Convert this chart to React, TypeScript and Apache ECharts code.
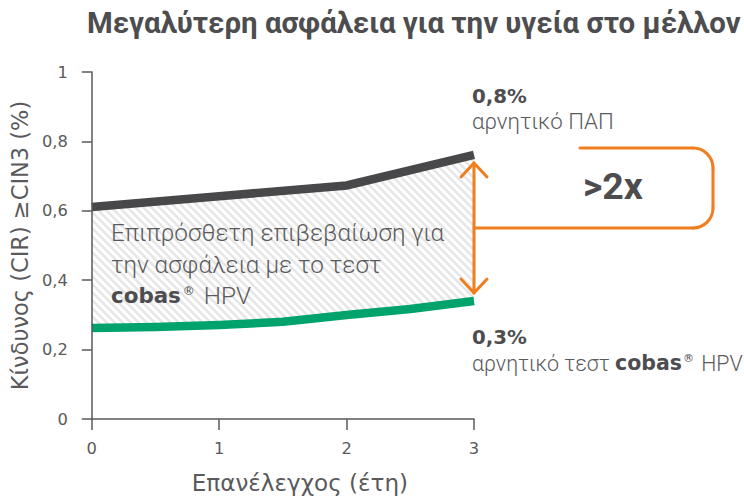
import React, { useEffect, useRef } from 'react';
import * as echarts from 'echarts';

const titleText = 'Μεγαλύτερη ασφάλεια για την υγεία στο μέλλον';
const xAxisName = 'Επανέλεγχος (έτη)';
const yAxisName = 'Κίνδυνος (CIR) ≥CIN3 (%)';
const papYears = [0, 1, 2, 3];
const papRisk = [0.611, 0.642, 0.673, 0.761];
const hpvYears = [0, 0.5, 1, 1.5, 2, 2.5, 3];
const hpvRisk = [0.262, 0.265, 0.271, 0.28, 0.3, 0.317, 0.34];
const papEndValue = '0,8%';
const papEndText = 'αρνητικό ΠΑΠ';
const hpvEndValue = '0,3%';
const hpvEndLead = 'αρνητικό τεστ ';
const brandName = 'cobas';
const areaLine1 = 'Επιπρόσθετη επιβεβαίωση για';
const areaLine2 = 'την ασφάλεια με το τεστ';
const ratioText = '>2x';

const FONT = 'Roboto, "Noto Sans", sans-serif';
const WIDE = '"DejaVu Sans", Roboto, sans-serif';
const GREY = '#4d4d4f';
const TEXT = '#5a5a5c';
const AXIS = '#5a5a5c';
const DARK = '#48484b';
const GREEN = '#00a36c';
const ORANGE = '#f07d1e';

const measureCtx = document.createElement('canvas').getContext('2d')!;
function fit(text: string, family: string, weight: string | number, target: number) {
  measureCtx.font = `${weight} 100px ${family}`;
  const w = measureCtx.measureText(text).width;
  return Math.round((1000 * target) / w) / 10;
}

function makeHatch() {
  const s = 8;
  const c = document.createElement('canvas');
  c.width = s;
  c.height = s;
  const ctx = c.getContext('2d')!;
  ctx.fillStyle = '#ffffff';
  ctx.fillRect(0, 0, s, s);
  ctx.strokeStyle = '#e6e6e6';
  ctx.lineWidth = 2.6;
  for (const k of [-s, 0, s]) {
    ctx.beginPath();
    ctx.moveTo(-2, k - 2);
    ctx.lineTo(s + 2, s + k + 2);
    ctx.stroke();
  }
  return c;
}

export default function App() {
  const ref = useRef<HTMLDivElement>(null);
  useEffect(() => {
    document.body.style.margin = '0';
    const chart = echarts.init(ref.current!, null, { renderer: 'svg' });
    const hatch = makeHatch();

    const titleSize = fit(titleText, FONT, 'bold', 654);
    const xNameSize = fit(xAxisName, WIDE, 'normal', 216);
    const yNameSize = fit(yAxisName, WIDE, 'normal', 290);
    const tickSize = fit('0,8', WIDE, 'normal', 26);
    const valueSize = fit(papEndValue, WIDE, 'bold', 55);
    const labelSize = fit(papEndText, FONT, 300, 142);
    const leadSize = fit(hpvEndLead, FONT, 300, 143);
    const brandSize = fit(brandName, WIDE, 'bold', 67);
    const areaSize = fit(areaLine1, FONT, 300, 333);
    const areaBrandSize = fit(brandName, WIDE, 'bold', 70);
    const ratioSize = fit(ratioText, FONT, 'bold', 60);

    chart.setOption({
      animation: false,
      backgroundColor: '#ffffff',
      textStyle: { fontFamily: FONT },
      title: {
        text: titleText,
        left: 87,
        top: 33 - 0.345 * titleSize - 16,
        padding: 0,
        textStyle: { fontSize: titleSize, fontWeight: 'bold', color: GREY, fontFamily: FONT, lineHeight: 32 },
      },
      grid: { left: 88, right: 270, top: 72, bottom: 83, containLabel: false },
      xAxis: {
        type: 'value',
        min: 0,
        max: 3,
        interval: 1,
        z: 10,
        name: xAxisName,
        nameLocation: 'middle',
        nameGap: 483 - 419 - xNameSize / 2,
        nameTextStyle: { fontSize: xNameSize, color: TEXT, fontFamily: WIDE, padding: [0, 0, 0, 34] },
        axisLine: { lineStyle: { color: AXIS, width: 1.5 } },
        axisTick: { show: true, length: 11, lineStyle: { color: AXIS, width: 1.5 } },
        axisLabel: { margin: 449 - 419 - tickSize / 2, fontSize: tickSize, color: TEXT, fontFamily: WIDE },
        splitLine: { show: false },
      },
      yAxis: {
        type: 'value',
        min: 0,
        max: 1,
        interval: 0.2,
        z: 10,
        name: yAxisName,
        nameLocation: 'middle',
        nameRotate: 90,
        nameGap: 88 - 21 - yNameSize / 2,
        nameTextStyle: { fontSize: yNameSize, color: TEXT, fontFamily: WIDE },
        axisLine: { show: true, lineStyle: { color: AXIS, width: 1.5 } },
        axisTick: { show: true, length: 10, lineStyle: { color: AXIS, width: 1.5 } },
        axisLabel: {
          margin: 24,
          fontSize: tickSize,
          color: TEXT,
          fontFamily: WIDE,
          formatter: (v: number) => String(Number(v.toFixed(1))).replace('.', ','),
        },
        splitLine: { show: false },
      },
      series: [
        {
          type: 'line',
          data: papYears.map((x, i) => [x, papRisk[i]]),
          showSymbol: false,
          silent: true,
          z: 2,
          lineStyle: { color: DARK, width: 8.5, cap: 'butt', join: 'miter' },
          areaStyle: {
            color: { image: hatch, repeat: 'repeat', imageWidth: 8, imageHeight: 8 },
            opacity: 1,
          },
        },
        {
          type: 'line',
          data: hpvYears.map((x, i) => [x, hpvRisk[i]]),
          showSymbol: false,
          silent: true,
          z: 3,
          lineStyle: { color: GREEN, width: 8.5, cap: 'butt', join: 'round' },
          areaStyle: { color: '#ffffff', opacity: 1 },
        },
      ],
    });

    const pEnd = chart.convertToPixel({ gridIndex: 0 }, [papYears[papYears.length - 1], papRisk[papRisk.length - 1]]) as number[];
    const hEnd = chart.convertToPixel({ gridIndex: 0 }, [hpvYears[hpvYears.length - 1], hpvRisk[hpvRisk.length - 1]]) as number[];
    const ax = pEnd[0];
    const topTip = pEnd[1] + 8;
    const botTip = hEnd[1] - 8;
    const midY = (topTip + botTip) / 2;
    const bx0 = ax + 106;
    const bx1 = ax + 239;
    const by0 = midY - 80;
    const r = 20;
    const orange = { stroke: ORANGE, lineWidth: 3, lineCap: 'round', lineJoin: 'round', fill: null };

    chart.setOption({
      graphic: [
        { type: 'line', z: 20, shape: { x1: ax, y1: topTip, x2: ax, y2: botTip }, style: orange },
        { type: 'polyline', z: 20, shape: { points: [[ax - 13, topTip + 14], [ax, topTip], [ax + 13, topTip + 14]] }, style: orange },
        { type: 'polyline', z: 20, shape: { points: [[ax - 13, botTip - 14], [ax, botTip], [ax + 13, botTip - 14]] }, style: orange },
        { type: 'line', z: 20, shape: { x1: ax, y1: midY, x2: bx1 - r, y2: midY }, style: orange },
        { type: 'line', z: 20, shape: { x1: bx0, y1: by0, x2: bx1 - r, y2: by0 }, style: orange },
        { type: 'line', z: 20, shape: { x1: bx1, y1: by0 + r, x2: bx1, y2: midY - r }, style: orange },
        { type: 'arc', z: 20, shape: { cx: bx1 - r, cy: by0 + r, r, startAngle: -Math.PI / 2, endAngle: 0, clockwise: true }, style: orange },
        { type: 'arc', z: 20, shape: { cx: bx1 - r, cy: midY - r, r, startAngle: 0, endAngle: Math.PI / 2, clockwise: true }, style: orange },
        {
          type: 'text', z: 20, x: 583, y: 199 - 0.345 * ratioSize,
          style: { text: ratioText, fontSize: ratioSize, fontWeight: 'bold', fontFamily: FONT, fill: GREY, align: 'left', verticalAlign: 'middle' },
        },
        {
          type: 'text', z: 20, x: 472, y: 96,
          style: { text: papEndValue, fontSize: valueSize, fontWeight: 'bold', fontFamily: WIDE, fill: GREY, align: 'left', verticalAlign: 'middle' },
        },
        {
          type: 'text', z: 20, x: 472, y: 121,
          style: { text: papEndText, fontSize: labelSize, fontWeight: 300, fontFamily: FONT, fill: TEXT, align: 'left', verticalAlign: 'middle' },
        },
        {
          type: 'text', z: 20, x: 472, y: 337,
          style: { text: hpvEndValue, fontSize: valueSize, fontWeight: 'bold', fontFamily: WIDE, fill: GREY, align: 'left', verticalAlign: 'middle' },
        },
        {
          type: 'text', z: 20, x: 472, y: 363,
          style: {
            text: `${hpvEndLead}{b|${brandName}}{s|®} HPV`,
            fontSize: leadSize, fontWeight: 300, fontFamily: FONT, fill: TEXT, align: 'left', verticalAlign: 'middle',
            rich: {
              b: { fontSize: brandSize, fontWeight: 'bold', fontFamily: WIDE, fill: GREY },
              s: { fontSize: 11, lineHeight: 11, fontFamily: WIDE, fill: GREY, padding: [0, 2, 10, 1] },
            },
          },
        },
        {
          type: 'text', z: 20, x: 111, y: 264,
          style: {
            text: `${areaLine1}\n${areaLine2}\n{b|${brandName}}{s|®} HPV`,
            fontSize: areaSize, fontWeight: 300, fontFamily: FONT, fill: TEXT, align: 'left', verticalAlign: 'middle', lineHeight: 31.5,
            rich: {
              b: { fontSize: areaBrandSize, fontWeight: 'bold', fontFamily: WIDE, fill: GREY, lineHeight: 31.5 },
              s: { fontSize: 12, lineHeight: 12, fontFamily: WIDE, fill: GREY, padding: [0, 3, 10, 2] },
            },
          },
        },
      ],
    });
    return () => chart.dispose();
  }, []);
  return <div ref={ref} style={{ width: 744, height: 502 }} />;
}
